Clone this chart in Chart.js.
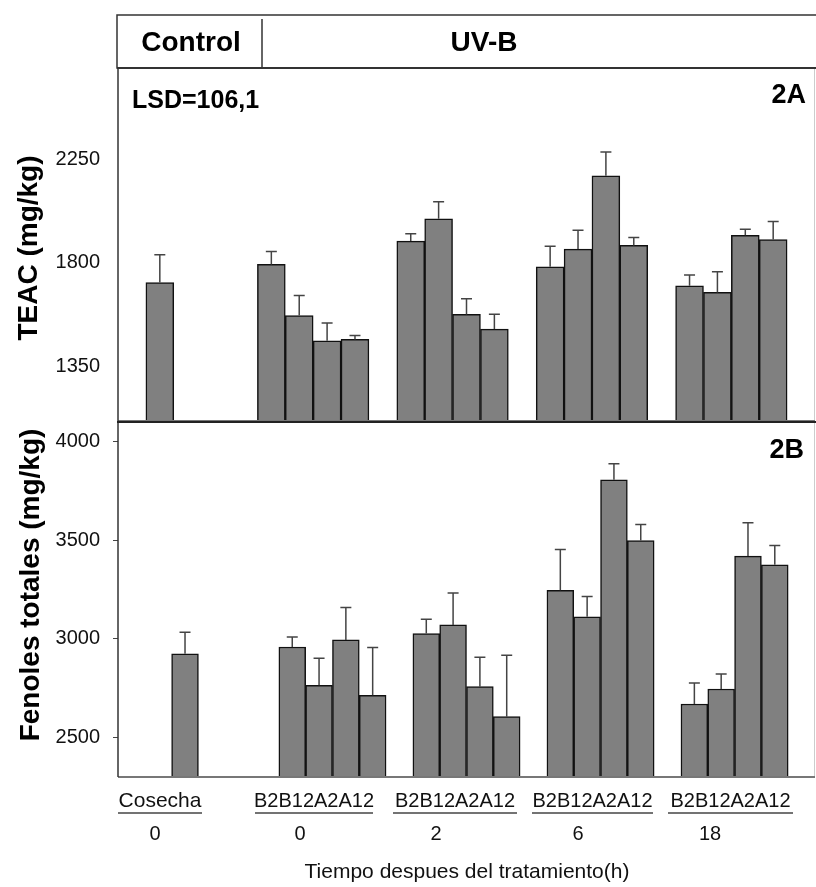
<!DOCTYPE html>
<html>
<head>
<meta charset="utf-8">
<script src="https://cdn.jsdelivr.net/npm/chart.js@4.4.0/dist/chart.umd.min.js"></script>
<style>
body { margin: 0; background: #fff; }
#wrap { position: relative; width: 816px; height: 887px; }
#top { position: absolute; left: 0; top: 0; }
#bot { position: absolute; left: 0; top: 420px; }
</style>
</head>
<body>
<div id="wrap">
	<canvas id="top" width="816" height="422"></canvas>
	<canvas id="bot" width="816" height="467"></canvas>
</div>
<script>
"use strict"

// datos
const grupos = ['0', '2', '6', '18'];
const tratamientos = ['B2', 'B12', 'A2', 'A12'];

const teacCosecha = [1714, 121]; // valor, error
const teacUV = [1793, 1570, 1460, 1466, 1895, 1992, 1575, 1511, 1783, 1860, 2180, 1876, 1700, 1671, 1920, 1902];
const teacErr = [57, 88, 78, 17, 32, 75, 68, 65, 89, 82, 104, 35, 47, 90, 26, 78];
const teacTicks = [1350, 1800, 2250];

const fenolCosecha = [2925, 109];
const fenolUV = [2959, 2765, 2995, 2714, 3027, 3071, 2758, 2606, 3247, 3112, 3807, 3499, 2670, 2746, 3420, 3376];
const fenolErr = [51, 137, 164, 242, 73, 162, 149, 311, 206, 103, 81, 81, 107, 76, 169, 98];
const fenolTicks = [2500, 3000, 3500, 4000];

const FONT = "'Liberation Sans', Arial, sans-serif";

// arma las posiciones de categoria: huecos, cosecha, huecos, grupos de 4
function armarSlots(nInicio, control, uv, err) {
	const etiquetas = [], valores = [], errores = [];
	const push = (l, v, e) => { etiquetas.push(l); valores.push(v); errores.push(e); };
	for (let i = 0; i < nInicio; i++) push('', null, null);
	push('Cosecha', control[0], control[1]);
	for (let i = 0; i < 3; i++) push('', null, null);
	grupos.forEach((g, gi) => {
		if (gi > 0) push('', null, null);
		tratamientos.forEach((t, ti) => push(t + ' (' + g + ' h)', uv[gi * 4 + ti], err[gi * 4 + ti]));
	});
	push('', null, null);
	return { etiquetas, valores, errores };
}

const errorBars = {
	id: 'errorBars',
	afterDatasetsDraw(chart) {
		const ctx = chart.ctx;
		const y = chart.scales.y;
		chart.data.datasets.forEach((ds, di) => {
			const meta = chart.getDatasetMeta(di);
			meta.data.forEach((bar, i) => {
				const v = ds.data[i];
				if (v == null) return;
				const yTop = y.getPixelForValue(v + ds.errores[i]);
				ctx.save();
				ctx.strokeStyle = '#444';
				ctx.lineWidth = 1.5;
				ctx.beginPath();
				ctx.moveTo(bar.x, bar.y);
				ctx.lineTo(bar.x, yTop);
				ctx.moveTo(bar.x - 5.5, yTop);
				ctx.lineTo(bar.x + 5.5, yTop);
				ctx.stroke();
				ctx.restore();
			});
		});
	}
};

function marco(chart, colorTop) {
	const { ctx, chartArea: a } = chart;
	ctx.save();
	ctx.lineWidth = 1;
	ctx.strokeStyle = '#ccc';
	ctx.beginPath(); ctx.moveTo(a.right - 0.5, a.top); ctx.lineTo(a.right - 0.5, a.bottom); ctx.stroke();
	ctx.lineWidth = 2;
	ctx.strokeStyle = '#777';
	ctx.beginPath(); ctx.moveTo(a.left, a.bottom); ctx.lineTo(a.right, a.bottom); ctx.stroke();
	ctx.lineWidth = 1.5;
	ctx.strokeStyle = '#333';
	ctx.beginPath(); ctx.moveTo(a.left, a.top); ctx.lineTo(a.left, a.bottom); ctx.stroke();
	if (colorTop) {
		ctx.lineWidth = 2;
		ctx.strokeStyle = colorTop;
		ctx.beginPath(); ctx.moveTo(a.left - 1, a.top); ctx.lineTo(a.right + 1, a.top); ctx.stroke();
	}
	ctx.restore();
}

function tituloY(ctx, texto, x, y) {
	ctx.save();
	ctx.translate(x, y);
	ctx.rotate(-Math.PI / 2);
	ctx.font = 'bold 28px ' + FONT;
	ctx.fillStyle = '#000';
	ctx.textAlign = 'center';
	ctx.textBaseline = 'middle';
	ctx.fillText(texto, 0, 0);
	ctx.restore();
}

const decoTop = {
	id: 'decoTop',
	afterDraw(chart) {
		const ctx = chart.ctx;
		marco(chart, '#333');
		// cabecera Control / UV-B
		ctx.save();
		ctx.strokeStyle = '#333';
		ctx.lineWidth = 1.5;
		ctx.strokeRect(117, 15, 720, 53);
		ctx.beginPath(); ctx.moveTo(262, 19); ctx.lineTo(262, 69); ctx.stroke();
		ctx.fillStyle = '#000';
		ctx.textBaseline = 'middle';
		ctx.textAlign = 'center';
		ctx.font = 'bold 28px ' + FONT;
		ctx.fillText('Control', 191, 43);
		ctx.fillText('UV-B', 484, 43);
		ctx.textAlign = 'left';
		ctx.font = 'bold 25px ' + FONT;
		ctx.fillText('LSD=106,1', 132, 101);
		ctx.textAlign = 'right';
		ctx.font = 'bold 27px ' + FONT;
		ctx.fillText('2A', 806, 96);
		ctx.restore();
		tituloY(ctx, 'TEAC (mg/kg)', 29, 248);
	}
};

const decoBot = {
	id: 'decoBot',
	afterDraw(chart) {
		const ctx = chart.ctx;
		marco(chart, '#222');
		ctx.save();
		ctx.fillStyle = '#000';
		ctx.textBaseline = 'middle';
		ctx.textAlign = 'right';
		ctx.font = 'bold 27px ' + FONT;
		ctx.fillText('2B', 804, 31);
		ctx.restore();
		tituloY(ctx, 'Fenoles totales (mg/kg)', 31, 165);

		// etiquetas del eje x (offset del canvas: 420)
		const oy = -420;
		const bloques = [
			{ t: 'Cosecha', x0: 118, x1: 202, n: '0', nx: 155 },
			{ t: tratamientos.join(''), x0: 255, x1: 373, n: grupos[0], nx: 300 },
			{ t: tratamientos.join(''), x0: 393, x1: 517, n: grupos[1], nx: 436 },
			{ t: tratamientos.join(''), x0: 532, x1: 653, n: grupos[2], nx: 578 },
			{ t: tratamientos.join(''), x0: 668, x1: 793, n: grupos[3], nx: 710 }
		];
		ctx.save();
		ctx.fillStyle = '#111';
		ctx.textAlign = 'center';
		ctx.textBaseline = 'middle';
		bloques.forEach((b, i) => {
			ctx.font = (i === 0 ? '21px ' : '20px ') + FONT;
			ctx.fillText(b.t, (b.x0 + b.x1) / 2, 801 + oy);
			ctx.strokeStyle = '#444';
			ctx.lineWidth = 1.5;
			ctx.beginPath(); ctx.moveTo(b.x0, 813 + oy); ctx.lineTo(b.x1, 813 + oy); ctx.stroke();
			ctx.font = '20px ' + FONT;
			ctx.fillText(b.n, b.nx, 834 + oy);
		});
		ctx.font = '21px ' + FONT;
		ctx.fillText('Tiempo despues del tratamiento(h)', 467, 872 + oy);
		ctx.restore();
	}
};

function crearPanel(id, slots, ticks, min, max, padTop, padBottom, tickLen) {
	return new Chart(document.getElementById(id), {
		type: 'bar',
		data: {
			labels: slots.etiquetas,
			datasets: [{
				data: slots.valores,
				errores: slots.errores,
				backgroundColor: '#808080',
				borderColor: '#111',
				borderWidth: 1.5,
				borderSkipped: false,
				barPercentage: 1,
				categoryPercentage: 1
			}]
		},
		options: {
			responsive: false,
			animation: false,
			events: [],
			layout: { autoPadding: false, padding: { top: padTop, bottom: padBottom, left: 0, right: 1 } },
			plugins: { legend: { display: false }, tooltip: { enabled: false } },
			scales: {
				x: { display: false, offset: true },
				y: {
					min: min,
					max: max,
					afterBuildTicks: a => { a.ticks = ticks.map(v => ({ value: v })); },
					afterFit: a => {
						a.width = 118;
						a.paddingTop = 0; // que las etiquetas no encojan el area
						a.paddingBottom = 0;
					},
					border: { display: false },
					grid: {
						display: tickLen > 0,
						drawOnChartArea: false,
						drawTicks: true,
						tickLength: tickLen,
						color: '#444'
					},
					ticks: {
						padding: tickLen > 0 ? 13 : 18,
						color: '#111',
						font: { family: FONT, size: 20 },
						callback: v => String(v)
					}
				}
			}
		},
		plugins: [errorBars, id === 'top' ? decoTop : decoBot]
	});
}

crearPanel('top', armarSlots(1, teacCosecha, teacUV, teacErr), teacTicks, 1110, 2650, 68, 1, 0);
crearPanel('bot', armarSlots(2, fenolCosecha, fenolUV, fenolErr), fenolTicks, 2300, 4100, 2, 110, 5);
</script>
</body>
</html>
